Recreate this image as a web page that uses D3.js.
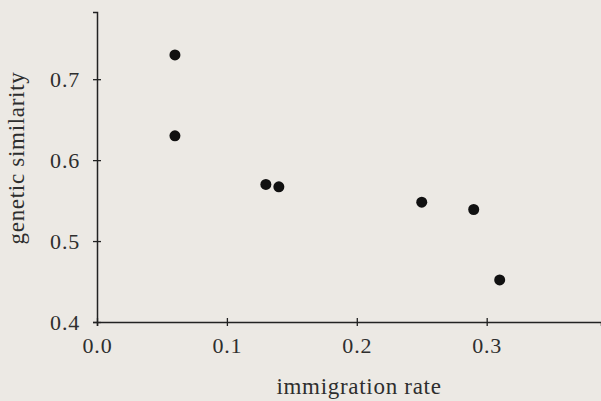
<!DOCTYPE html>
<html>
<head>
<meta charset="utf-8">
<script src="https://cdn.jsdelivr.net/npm/d3@7"></script>
<style>
  html, body { margin: 0; padding: 0; background: #ece9e4; }
  svg { display: block; }
  text { font-family: "Liberation Serif", "DejaVu Serif", serif; fill: #2e2e2e; }
</style>
</head>
<body>
<div id="chart"></div>
<script>
// immigration rate vs genetic similarity
var immigration = [0.06, 0.06, 0.13, 0.14, 0.25, 0.29, 0.31];
var similarity  = [0.73, 0.63, 0.57, 0.567, 0.548, 0.539, 0.452];

var xTicks = [0.0, 0.1, 0.2, 0.3];
var yTicks = [0.4, 0.5, 0.6, 0.7];

function init() {
	var w = 601;
	var h = 401;

	var xScale = d3.scaleLinear()
								 .domain([0, 0.388])
								 .range([97, 601]);

	var yScale = d3.scaleLinear()
								 .domain([0.4, 0.783])
								 .range([322, 12]);

	var svg = d3.select("#chart")
							.append("svg")
							.attr("width", w)
							.attr("height", h);

	// x axis
	var xAxis = svg.append("g")
			.attr("transform", "translate(0," + yScale(0.4) + ")")
			.call(d3.axisBottom(xScale)
					.tickValues(xTicks)
					.tickFormat(d3.format(".1f"))
					.tickSize(4)
					.tickPadding(11));

	// y axis
	var yAxis = svg.append("g")
			.attr("transform", "translate(" + xScale(0) + ",0)")
			.call(d3.axisLeft(yScale)
					.tickValues(yTicks)
					.tickFormat(d3.format(".1f"))
					.tickSize(4)
					.tickPadding(13));

	// ticks cross the axis line on both sides
	xAxis.selectAll(".tick line").attr("y1", -4);
	yAxis.selectAll(".tick line").attr("x1", 4);

	svg.selectAll(".domain")
			.attr("stroke", "#222")
			.attr("stroke-width", 1.5);
	svg.selectAll(".tick line")
			.attr("stroke", "#222")
			.attr("stroke-width", 1.3);
	svg.selectAll(".tick text")
			.style("font-size", "22px")
			.style("letter-spacing", "0.8px")
			.style("font-family", "Liberation Serif, serif")
			.attr("fill", "#333");

	// axis titles
	svg.append("text")
			.attr("x", 359)
			.attr("y", 394)
			.attr("text-anchor", "middle")
			.style("font-size", "23px")
			.style("letter-spacing", "0.7px")
			.text("immigration rate");

	svg.append("text")
			.attr("transform", "translate(24,158) rotate(-90)")
			.attr("text-anchor", "middle")
			.style("font-size", "23px")
			.style("letter-spacing", "0.7px")
			.text("genetic similarity");

	// points
	svg.selectAll("circle")
			.data(immigration)
			.enter()
			.append("circle")
			.attr("cx", function(d){
				return xScale(d);
			})
			.attr("cy", function(d, i){
				return yScale(similarity[i]);
			})
			.attr("r", 5.5)
			.attr("fill", "#111");
}

window.onload = init;
</script>
</body>
</html>
